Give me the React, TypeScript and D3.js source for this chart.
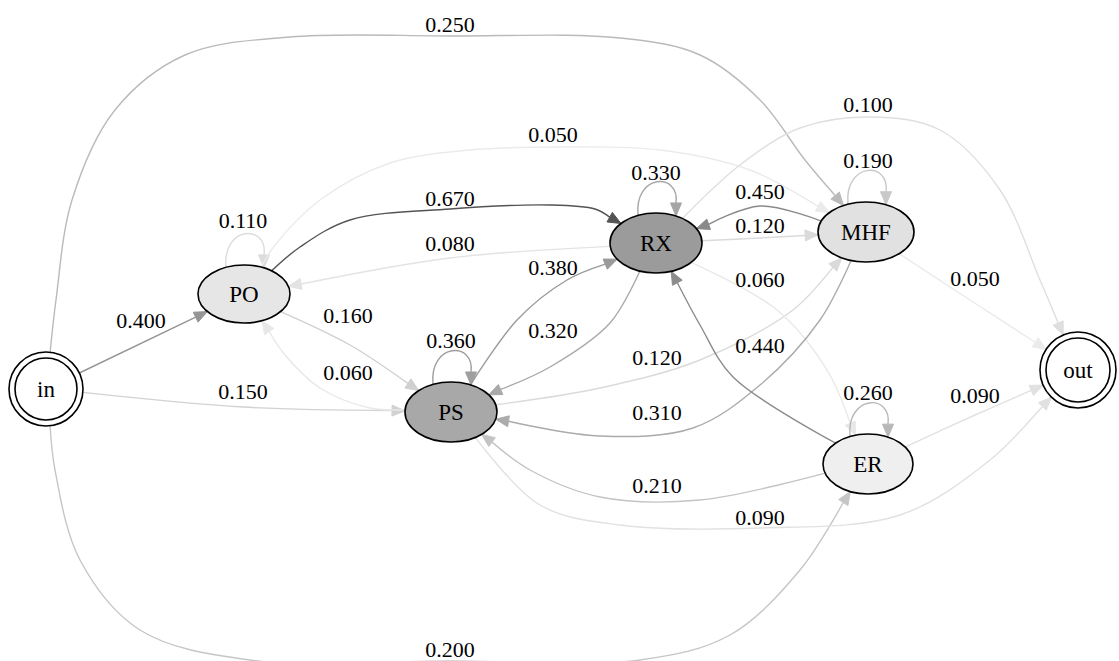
import * as d3 from "d3";
import React from "react";

// states of the chain
const nodeNames = ["in", "PO", "PS", "RX", "MHF", "ER", "out"];

// transitions
const edgeFrom = ["in", "in", "in", "in", "PO", "PO", "PO", "PO", "PS", "PS", "PS", "PS", "PS", "RX", "RX", "RX", "RX", "RX", "RX", "MHF", "MHF", "MHF", "MHF", "ER", "ER", "ER", "ER"];
const edgeTo = ["PO", "PS", "MHF", "ER", "PO", "RX", "PS", "MHF", "PS", "RX", "PO", "MHF", "out", "RX", "PO", "PS", "MHF", "ER", "out", "MHF", "RX", "PS", "out", "ER", "RX", "PS", "out"];
const edgeProb = [0.4, 0.15, 0.25, 0.2, 0.11, 0.67, 0.16, 0.05, 0.36, 0.38, 0.06, 0.12, 0.09, 0.33, 0.08, 0.32, 0.12, 0.06, 0.1, 0.19, 0.45, 0.31, 0.05, 0.26, 0.44, 0.21, 0.09];

// layout (graphviz style placement)
type Pt = [number, number];
const nodeLayout: Record<string, { x: number; y: number; rx: number; ry: number; fill: string; double?: boolean }> = {
  in: { x: 46, y: 389, rx: 37, ry: 37, fill: "#fff", double: true },
  PO: { x: 244, y: 294, rx: 46, ry: 29, fill: "#e6e6e6" },
  PS: { x: 451, y: 412, rx: 46, ry: 30, fill: "#a8a8a8" },
  RX: { x: 656, y: 243, rx: 46, ry: 30, fill: "#9b9b9b" },
  MHF: { x: 866, y: 232, rx: 48, ry: 30, fill: "#e1e1e1" },
  ER: { x: 868, y: 464, rx: 45, ry: 30, fill: "#efefef" },
  out: { x: 1078, y: 370, rx: 38, ry: 38, fill: "#fff", double: true },
};

const routes: Record<string, { via: Pt[]; label: Pt }> = {
  "in>PO": { via: [], label: [141, 328] },
  "in>PS": { via: [[243, 407]], label: [243, 399] },
  "in>MHF": {
    via: [[56, 300], [72, 200], [115, 110], [185, 55], [290, 37], [450, 36], [620, 38], [700, 55], [760, 100], [805, 160]],
    label: [450, 32],
  },
  "in>ER": {
    via: [[55, 470], [80, 560], [140, 630], [250, 660], [450, 661], [640, 660], [730, 635], [800, 570]],
    label: [450, 657],
  },
  "PO>PO": { via: [], label: [243, 228] },
  "PO>RX": { via: [[300, 247], [350, 220], [450, 209], [550, 205], [595, 209]], label: [450, 206] },
  "PO>PS": { via: [[350, 345]], label: [348, 323] },
  "PO>MHF": { via: [[275, 245], [320, 200], [390, 163], [470, 150], [560, 147], [660, 150], [750, 170]], label: [553, 142] },
  "PS>PS": { via: [], label: [451, 348] },
  "PS>RX": { via: [[517, 320], [567, 280]], label: [553, 275] },
  "PS>PO": { via: [[370, 408], [320, 388], [285, 355]], label: [348, 380] },
  "PS>MHF": { via: [[600, 388], [700, 360], [793, 310]], label: [657, 365] },
  "PS>out": { via: [[540, 505], [620, 525], [760, 528], [900, 515], [990, 460]], label: [760, 525] },
  "RX>RX": { via: [], label: [656, 180] },
  "RX>PO": { via: [[450, 258]], label: [450, 251] },
  "RX>PS": { via: [[610, 323], [550, 367]], label: [553, 338] },
  "RX>MHF": { via: [[760, 238]], label: [760, 233] },
  "RX>ER": { via: [[777, 310], [827, 370]], label: [760, 287] },
  "RX>out": { via: [[740, 165], [800, 128], [870, 117], [940, 130], [1000, 190], [1040, 280]], label: [868, 112] },
  "MHF>MHF": { via: [], label: [868, 168] },
  "MHF>RX": { via: [[760, 206]], label: [760, 199] },
  "MHF>PS": { via: [[820, 320], [760, 385], [693, 428], [600, 436]], label: [657, 420] },
  "MHF>out": { via: [[970, 300]], label: [975, 286] },
  "ER>ER": { via: [], label: [868, 400] },
  "ER>RX": { via: [[733, 377], [700, 325]], label: [760, 353] },
  "ER>PS": { via: [[700, 500], [600, 497], [530, 470]], label: [657, 493] },
  "ER>out": { via: [[975, 415]], label: [975, 403] },
};

const W = 1119;
const H = 661;
const FONT = "Liberation Serif";
const ARROW = 13;

const shade = d3.scaleLinear().domain([0, 1]).range([247, 3]);
const edgeColor = (p: number) => {
  const v = Math.round(shade(p));
  return d3.rgb(v, v, v).formatHex();
};

function boundary(n: { x: number; y: number; rx: number; ry: number }, p: Pt): Pt {
  const dx = p[0] - n.x;
  const dy = p[1] - n.y;
  const t = 1 / Math.sqrt((dx / n.rx) ** 2 + (dy / n.ry) ** 2);
  return [n.x + dx * t, n.y + dy * t];
}

const curve = d3.line<Pt>().curve(d3.curveCatmullRom.alpha(0.5));

function arrowHead(tip: Pt, base: Pt) {
  const dx = tip[0] - base[0];
  const dy = tip[1] - base[1];
  const len = Math.hypot(dx, dy);
  const px = (-dy / len) * 5.5;
  const py = (dx / len) * 5.5;
  return `M${tip[0]},${tip[1]}L${base[0] + px},${base[1] + py}L${base[0] - px},${base[1] - py}Z`;
}

export default function App() {
  const edges = edgeFrom.map((from, i) => {
    const to = edgeTo[i];
    const p = edgeProb[i];
    const r = routes[`${from}>${to}`];
    const s = nodeLayout[from];
    const t = nodeLayout[to];
    let line: string;
    let tip: Pt;
    let base: Pt;
    if (from === to) {
      // self loop over the top of the node
      const off = 18;
      const sy = s.y - s.ry * Math.sqrt(1 - (off / s.rx) ** 2);
      const ex = s.x + 20;
      const ey = s.y - s.ry * Math.sqrt(1 - (20 / s.rx) ** 2);
      tip = [ex, ey];
      base = [ex, ey - ARROW];
      line = `M${s.x - off},${sy}C${s.x - off - 4},${sy - 42} ${ex + 4},${ey - 44} ${base[0]},${base[1]}`;
    } else {
      const first: Pt = r.via.length ? r.via[0] : [t.x, t.y];
      const last: Pt = r.via.length ? r.via[r.via.length - 1] : [s.x, s.y];
      const start = boundary(s, first);
      tip = boundary(t, last);
      const dx = last[0] - tip[0];
      const dy = last[1] - tip[1];
      const len = Math.hypot(dx, dy);
      base = [tip[0] + (dx / len) * ARROW, tip[1] + (dy / len) * ARROW];
      line = curve([start, ...r.via, base]) as string;
    }
    return { from, to, p, line, head: arrowHead(tip, base), label: r.label, color: edgeColor(p) };
  });

  const fmt = d3.format(".3f");

  return (
    <svg width={W} height={H} style={{ position: "absolute", left: 0, top: 0, background: "#fff" }}>
      <g>
        {edges.map((e) => (
          <g key={`${e.from}-${e.to}`}>
            <path d={e.line} fill="none" stroke={e.color} strokeWidth={1.4} />
            <path d={e.head} fill={e.color} stroke={e.color} strokeWidth={1} />
          </g>
        ))}
      </g>
      <g>
        {nodeNames.map((name) => {
          const n = nodeLayout[name];
          return (
            <g key={name}>
              <ellipse cx={n.x} cy={n.y} rx={n.rx} ry={n.ry} fill={n.fill} stroke="#000" strokeWidth={1.6} />
              {n.double && <ellipse cx={n.x} cy={n.y} rx={n.rx - 6} ry={n.ry - 6} fill="none" stroke="#000" strokeWidth={1.6} />}
              <text x={n.x} y={n.y} dy="0.34em" textAnchor="middle" style={{ fontFamily: FONT, fontSize: 23 }} fill="#000">
                {name}
              </text>
            </g>
          );
        })}
      </g>
      <g>
        {edges.map((e) => (
          <text
            key={`l-${e.from}-${e.to}`}
            x={e.label[0]}
            y={e.label[1]}
            textAnchor="middle"
            style={{ fontFamily: FONT, fontSize: 22 }}
            fill="#000"
          >
            {fmt(e.p)}
          </text>
        ))}
      </g>
    </svg>
  );
}
